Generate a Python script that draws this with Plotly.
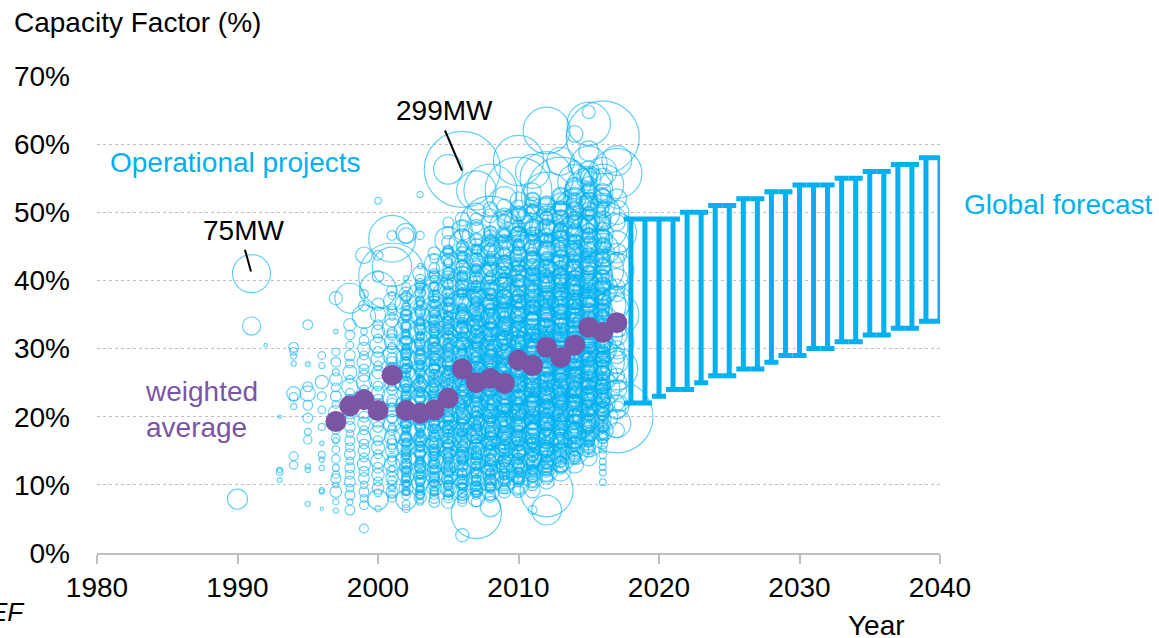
import plotly.graph_objects as go

# ---------------- Data ----------------
# Operational projects: (capacity factor %, capacity MW) per commissioning year
p1990 = [(7.9, 21)]
p1991 = [(41.0, 75), (33.3, 17)]
p1992 = [(30.5, 0.6)]
p1993 = [(20.0, 0.6), (12.2, 1.5), (11.9, 2.3), (10.7, 1.2)]
p1994 = [(30.2, 5), (29.6, 3), (28.9, 2), (27.8, 1.5), (23.4, 10), (22.9, 4), (21.5, 2), (14.2, 4), (12.9, 3.5)]
p1995 = [(33.5, 5), (27.7, 1.2), (24.4, 5), (23.4, 12), (21.7, 5), (19.8, 5), (17.8, 2.3), (16.6, 3.5),
         (12.7, 1.5), (12.2, 1.5), (7.2, 1.5)]
p1996 = [(29.0, 3), (27.5, 2), (25.1, 9), (23.0, 4), (21.0, 3), (18.5, 2.5), (16.1, 1), (14.4, 2.5),
         (13.7, 1.5), (12.5, 1.5), (9.2, 1.5), (9.0, 1.2), (6.5, 0.5)]
p1997 = [(37.4, 9), (32.5, 1), (29.5, 3), (28.0, 5), (26.5, 2.5), (25.5, 8), (24.3, 4), (23.0, 6), (21.8, 3),
         (20.5, 12), (19.2, 5), (18.0, 3), (16.8, 4), (16.5, 2), (15.2, 3), (13.8, 4), (12.5, 2.5), (11.5, 3),
         (10.9, 5), (10.0, 2), (9.0, 7), (7.5, 2), (6.2, 1.5)]
p1998 = [(37.4, 46), (33.5, 8), (32.0, 5), (30.5, 3), (29.0, 6), (27.8, 4), (26.5, 10), (25.5, 3), (24.4, 14),
         (23.5, 4), (22.5, 6), (21.5, 3), (20.6, 8), (19.5, 4), (18.5, 6), (17.5, 3), (16.5, 5), (15.5, 4),
         (14.5, 6), (13.5, 3), (12.5, 5), (11.5, 4), (10.5, 6), (9.5, 3), (8.5, 5), (7.5, 2), (6.3, 5)]
p1999 = [(43.7, 14), (38.0, 4), (36.3, 6), (34.7, 28), (32.5, 2.3), (31.2, 5), (30.0, 8), (29.0, 4), (28.0, 10),
         (27.0, 5), (26.0, 7), (25.0, 12), (24.0, 4), (23.0, 9), (22.0, 5), (21.0, 15), (20.0, 6), (19.0, 8),
         (18.0, 4), (17.0, 10), (16.0, 5), (15.0, 7), (14.0, 4), (13.0, 9), (12.0, 5), (11.0, 6), (10.0, 3),
         (9.0, 5), (8.0, 3), (7.0, 4), (3.6, 4)]
p2000 = [(51.7, 2.3), (43.7, 5), (40.6, 7), (38.6, 70), (36.5, 8), (35.0, 12), (33.5, 5), (32.5, 9), (31.5, 4),
         (30.5, 14), (29.5, 6), (28.5, 10), (27.5, 4), (26.5, 8), (25.5, 18), (24.5, 5), (23.5, 9), (22.5, 6),
         (21.5, 12), (20.5, 4), (19.5, 10), (18.5, 6), (17.5, 14), (16.5, 5), (15.5, 9), (14.5, 4), (13.5, 11),
         (12.5, 6), (11.5, 8), (10.5, 4), (9.5, 7), (8.8, 3), (7.8, 21), (6.5, 2)]
p2001 = [(46.6, 5), (46.1, 113), (42.0, 80), (40.6, 230), (38.5, 6), (37.0, 15), (35.5, 5), (34.2, 10),
         (33.0, 20), (32.0, 6), (31.0, 12), (30.0, 5), (29.0, 18), (28.0, 7), (27.0, 10), (26.0, 4), (25.0, 14),
         (24.0, 6), (23.0, 20), (22.0, 5), (21.0, 10), (20.0, 7), (19.0, 16), (18.0, 5), (17.0, 12), (16.0, 6),
         (15.0, 9), (14.0, 4), (13.0, 12), (12.0, 6), (11.0, 8), (10.0, 4), (9.0, 7), (8.0, 3),
         (37.8, 3), (35.9, 4), (34.6, 2), (32.4, 5), (30.4, 3), (28.6, 6), (27.4, 2.5), (25.7, 4), (24.4, 3),
         (22.4, 6), (21.4, 3), (19.7, 5), (18.5, 2.5), (16.6, 4), (15.4, 3), (13.6, 5), (12.4, 2), (10.6, 4),
         (9.5, 2.5), (8.6, 3)]
p2002 = [(46.9, 21), (46.6, 12), (40.3, 1.5), (38.0, 10), (36.5, 25), (35.0, 6), (33.8, 14), (32.5, 30),
         (31.5, 8), (30.5, 18), (29.5, 5), (28.5, 22), (27.5, 9), (26.5, 14), (25.5, 35), (24.5, 7), (23.5, 16),
         (22.5, 5), (21.5, 25), (20.5, 10), (19.5, 14), (18.5, 6), (17.5, 30), (16.5, 9), (15.5, 18), (14.5, 5),
         (13.5, 22), (12.5, 8), (11.5, 14), (10.5, 6), (9.5, 10), (8.5, 4), (7.8, 21), (6.5, 3),
         (39.0, 4), (37.2, 3), (35.6, 5), (34.3, 2.5), (33.1, 6), (31.9, 3), (30.9, 8), (29.9, 4), (28.9, 3),
         (27.9, 7), (26.9, 4), (25.9, 3), (24.9, 9), (23.9, 3), (22.9, 5), (21.9, 4), (20.9, 7), (19.9, 3),
         (18.9, 5), (17.9, 3), (16.9, 6), (15.9, 4), (14.9, 3), (13.9, 6), (12.9, 3), (11.9, 5), (10.9, 3),
         (9.9, 4), (8.9, 2.5), (7.2, 3)]
p2003 = [(52.6, 2), (46.6, 3.5), (42.1, 1.5), (41.0, 12), (39.5, 6), (37.6, 37), (36.0, 9), (34.8, 20),
         (33.6, 6), (32.5, 28), (31.4, 10), (30.3, 16), (29.2, 5), (28.2, 24), (27.2, 9), (26.2, 40), (25.2, 7),
         (24.2, 18), (23.2, 12), (22.2, 30), (21.2, 6), (20.2, 20), (19.2, 9), (18.2, 35), (17.2, 7), (16.2, 16),
         (15.2, 11), (14.2, 25), (13.2, 6), (12.2, 18), (11.2, 9), (10.2, 14), (9.2, 5), (8.2, 8), (7.5, 2.3),
         (40.2, 5), (38.7, 3), (37.0, 4), (35.5, 6), (34.2, 3), (33.0, 8), (31.9, 4), (30.8, 6), (29.8, 3),
         (28.7, 9), (27.7, 4), (26.7, 6), (25.7, 3), (24.7, 10), (23.7, 4), (22.7, 6), (21.7, 3), (20.7, 8),
         (19.7, 4), (18.7, 6), (17.7, 3), (16.7, 9), (15.7, 4), (14.7, 6), (13.7, 3), (12.7, 7), (11.7, 4),
         (10.7, 5), (9.7, 3), (8.7, 4)]
p2004 = [(44.0, 8), (42.5, 20), (41.0, 5), (39.5, 14), (38.0, 30), (36.8, 8), (35.7, 37), (34.5, 12), (33.5, 22),
         (32.5, 6), (31.5, 40), (30.5, 10), (29.5, 18), (28.5, 7), (27.5, 28), (26.5, 12), (25.5, 50), (24.5, 9),
         (23.5, 20), (22.5, 6), (21.5, 32), (20.5, 14), (19.5, 24), (18.5, 8), (17.5, 45), (16.5, 11), (15.5, 20),
         (14.5, 7), (13.5, 28), (12.5, 10), (11.5, 16), (10.5, 6), (9.5, 12), (8.5, 4), (7.5, 6),
         (43.2, 4), (41.8, 6), (40.2, 3), (38.8, 8), (37.4, 4), (36.2, 10), (35.1, 3), (34.0, 7), (33.0, 4),
         (32.0, 12), (31.0, 5), (30.0, 8), (29.0, 4), (28.0, 14), (27.0, 5), (26.0, 9), (25.0, 4), (24.0, 15),
         (23.0, 6), (22.0, 10), (21.0, 4), (20.0, 16), (19.0, 6), (18.0, 9), (17.0, 4), (16.0, 14), (15.0, 5),
         (14.0, 8), (13.0, 4), (12.0, 10), (11.0, 4), (10.0, 7), (9.0, 3), (8.0, 5)]
p2005 = [(56.3, 45), (48.5, 6), (45.9, 37), (45.6, 9), (43.5, 14), (42.0, 28), (40.5, 8), (39.0, 22), (37.8, 50),
         (36.5, 10), (35.5, 18), (34.5, 6), (33.5, 35), (32.5, 12), (31.5, 24), (30.5, 8), (29.5, 60), (28.5, 14),
         (27.5, 20), (26.5, 7), (25.5, 40), (24.5, 12), (23.5, 26), (22.5, 9), (21.5, 55), (20.5, 15), (19.5, 22),
         (18.5, 8), (17.5, 38), (16.5, 12), (15.5, 25), (14.5, 9), (13.5, 30), (12.5, 11), (11.5, 18), (10.5, 7),
         (9.5, 14), (8.5, 5), (7.5, 9),
         (47.0, 8), (44.5, 5), (43.0, 10), (41.3, 4), (39.8, 12), (38.5, 5), (37.2, 8), (36.0, 4), (35.0, 14),
         (34.0, 5), (33.0, 9), (32.0, 4), (31.0, 16), (30.0, 6), (29.0, 10), (28.0, 5), (27.0, 18), (26.0, 6),
         (25.0, 10), (24.0, 5), (23.0, 16), (22.0, 6), (21.0, 11), (20.0, 5), (19.0, 18), (18.0, 6), (17.0, 10),
         (16.0, 5), (15.0, 14), (14.0, 6), (13.0, 9), (12.0, 4), (11.0, 10), (10.0, 4), (9.0, 6), (8.0, 4)]
p2006 = [(56.3, 299), (49.0, 10), (47.4, 21), (45.5, 35), (44.0, 8), (42.5, 25), (41.0, 12), (39.8, 45),
         (38.5, 9), (37.3, 20), (36.2, 60), (35.0, 11), (34.0, 28), (33.0, 8), (32.0, 40), (31.0, 14), (30.0, 22),
         (29.0, 70), (28.0, 10), (27.0, 30), (26.0, 16), (25.0, 50), (24.0, 9), (23.0, 26), (22.0, 12), (21.0, 80),
         (20.0, 14), (19.0, 30), (18.0, 9), (17.0, 45), (16.0, 12), (15.0, 28), (14.0, 8), (13.0, 35), (12.0, 10),
         (11.0, 20), (10.0, 6), (9.0, 16), (8.0, 5), (2.6, 9),
         (48.0, 6), (46.5, 12), (43.2, 5), (41.8, 14), (40.4, 6), (39.0, 10), (37.9, 5), (36.8, 16), (35.6, 6),
         (34.5, 10), (33.5, 5), (32.5, 18), (31.5, 6), (30.5, 11), (29.5, 5), (28.5, 20), (27.5, 7), (26.5, 12),
         (25.5, 6), (24.5, 20), (23.5, 7), (22.5, 12), (21.5, 6), (20.5, 22), (19.5, 7), (18.5, 12), (17.5, 6),
         (16.5, 18), (15.5, 7), (14.5, 10), (13.5, 5), (12.5, 14), (11.5, 6), (10.5, 9), (9.5, 4), (8.5, 6),
         (7.5, 4)]
p2007 = [(53.2, 80), (50.0, 18), (48.0, 9), (46.5, 40), (45.0, 12), (43.5, 28), (42.0, 8), (40.8, 55), (39.5, 14),
         (38.3, 24), (37.2, 9), (36.0, 70), (35.0, 12), (34.0, 32), (33.0, 16), (32.0, 50), (31.0, 9), (30.0, 28),
         (29.0, 14), (28.0, 90), (27.0, 11), (26.0, 36), (25.0, 18), (24.0, 60), (23.0, 10), (22.0, 30), (21.0, 15),
         (20.0, 75), (19.0, 12), (18.0, 34), (17.0, 9), (16.0, 50), (15.0, 14), (14.0, 26), (13.0, 8), (12.0, 40),
         (11.0, 12), (10.0, 20), (9.0, 7), (8.0, 14), (5.8, 130),
         (49.0, 8), (47.2, 14), (44.2, 6), (42.8, 16), (41.4, 7), (40.1, 11), (38.9, 6), (37.8, 18), (36.6, 7),
         (35.5, 12), (34.5, 6), (33.5, 20), (32.5, 7), (31.5, 12), (30.5, 6), (29.5, 22), (28.5, 8), (27.5, 13),
         (26.5, 6), (25.5, 24), (24.5, 8), (23.5, 13), (22.5, 7), (21.5, 24), (20.5, 8), (19.5, 13), (18.5, 6),
         (17.5, 20), (16.5, 7), (15.5, 12), (14.5, 6), (13.5, 16), (12.5, 7), (11.5, 10), (10.5, 5), (9.5, 8),
         (8.5, 4), (7.5, 5)]
p2008 = [(53.2, 145), (50.5, 10), (47.8, 200), (45.5, 16), (44.0, 35), (42.5, 10), (41.0, 28), (39.8, 60),
         (38.5, 12), (37.3, 24), (36.2, 9), (35.0, 45), (34.0, 14), (33.0, 30), (32.0, 10), (31.0, 65), (30.0, 16),
         (29.0, 28), (28.0, 9), (27.0, 50), (26.0, 18), (25.0, 35), (24.0, 12), (23.0, 80), (22.0, 14), (21.0, 30),
         (20.0, 10), (19.0, 55), (18.0, 16), (17.0, 28), (16.0, 9), (15.0, 45), (14.0, 14), (13.0, 24), (12.0, 10),
         (11.0, 35), (10.0, 8), (9.0, 16), (8.2, 6), (6.8, 21),
         (49.5, 10), (46.5, 8), (45.0, 18), (43.2, 7), (41.8, 14), (40.5, 7), (39.2, 20), (38.0, 8), (36.8, 13),
         (35.6, 7), (34.5, 22), (33.5, 8), (32.5, 14), (31.5, 7), (30.5, 24), (29.5, 9), (28.5, 14), (27.5, 7),
         (26.5, 26), (25.5, 9), (24.5, 15), (23.5, 7), (22.5, 24), (21.5, 9), (20.5, 14), (19.5, 7), (18.5, 22),
         (17.5, 8), (16.5, 13), (15.5, 6), (14.5, 18), (13.5, 7), (12.5, 11), (11.5, 6), (10.5, 9), (9.5, 5),
         (8.5, 6)]
p2009 = [(52.0, 30), (49.5, 12), (48.0, 45), (46.5, 9), (45.0, 22), (43.5, 60), (42.0, 14), (40.8, 30), (39.5, 10),
         (38.3, 50), (37.2, 16), (36.0, 28), (35.0, 9), (34.0, 70), (33.0, 14), (32.0, 35), (31.0, 12), (30.0, 55),
         (29.0, 18), (28.0, 30), (27.0, 10), (26.0, 90), (25.0, 14), (24.0, 40), (23.0, 16), (22.0, 60), (21.0, 10),
         (20.0, 32), (19.0, 18), (18.0, 75), (17.0, 12), (16.0, 30), (15.0, 9), (14.0, 50), (13.0, 14), (12.0, 28),
         (11.2, 40), (10.7, 9), (10.0, 18), (9.0, 8),
         (50.8, 12), (47.2, 9), (44.3, 20), (42.8, 8), (41.5, 15), (40.2, 8), (39.0, 22), (37.8, 9), (36.6, 14),
         (35.5, 8), (34.5, 24), (33.5, 9), (32.5, 15), (31.5, 8), (30.5, 26), (29.5, 10), (28.5, 15), (27.5, 8),
         (26.5, 28), (25.5, 10), (24.5, 16), (23.5, 8), (22.5, 26), (21.5, 10), (20.5, 15), (19.5, 8), (18.5, 24),
         (17.5, 9), (16.5, 14), (15.5, 7), (14.5, 20), (13.5, 8), (12.5, 12), (11.5, 6), (10.3, 8), (9.5, 5)]
p2010 = [(57.6, 130), (53.2, 230), (50.5, 16), (48.5, 40), (47.0, 10), (45.5, 28), (44.0, 70), (42.5, 14),
         (41.0, 35), (39.8, 9), (38.5, 55), (37.3, 16), (36.2, 30), (35.0, 12), (34.0, 80), (33.0, 14), (32.0, 40),
         (31.0, 10), (30.0, 60), (29.0, 18), (28.0, 32), (27.0, 12), (26.0, 100), (25.0, 16), (24.0, 45), (23.0, 10),
         (22.0, 65), (21.0, 20), (20.0, 35), (19.0, 12), (18.0, 85), (17.0, 14), (16.0, 40), (15.0, 10), (14.0, 55),
         (13.0, 16), (12.0, 30), (11.0, 9), (10.0, 22), (9.0, 7),
         (51.8, 14), (49.5, 9), (46.3, 22), (44.8, 9), (43.3, 16), (42.0, 9), (40.6, 24), (39.3, 10), (38.0, 15),
         (36.8, 9), (35.6, 26), (34.5, 10), (33.5, 16), (32.5, 9), (31.5, 28), (30.5, 10), (29.5, 16), (28.5, 9),
         (27.5, 30), (26.5, 11), (25.5, 17), (24.5, 9), (23.5, 28), (22.5, 11), (21.5, 16), (20.5, 9), (19.5, 26),
         (18.5, 10), (17.5, 15), (16.5, 8), (15.5, 22), (14.5, 9), (13.5, 13), (12.5, 7), (11.5, 10), (10.5, 6),
         (9.5, 6)]
p2011 = [(56.0, 60), (51.0, 14), (49.0, 50), (47.5, 12), (46.0, 30), (44.5, 80), (43.0, 14), (41.8, 35), (40.5, 10),
         (39.3, 60), (38.2, 16), (37.0, 28), (36.0, 12), (35.0, 90), (34.0, 14), (33.0, 40), (32.0, 10), (31.0, 65),
         (30.0, 20), (29.0, 35), (28.0, 12), (27.0, 110), (26.0, 16), (25.0, 45), (24.0, 12), (23.0, 70), (22.0, 18),
         (21.0, 38), (20.0, 10), (19.0, 80), (18.0, 14), (17.0, 35), (16.0, 9), (15.0, 50), (14.0, 16), (13.0, 28),
         (12.0, 10), (11.0, 20), (10.0, 7), (9.2, 12), (6.3, 4),
         (53.0, 16), (50.0, 10), (48.2, 24), (46.8, 10), (45.3, 18), (43.8, 10), (42.4, 26), (41.1, 11), (39.9, 16),
         (38.7, 10), (37.5, 28), (36.5, 11), (35.5, 17), (34.5, 10), (33.5, 30), (32.5, 11), (31.5, 17), (30.5, 10),
         (29.5, 32), (28.5, 12), (27.5, 18), (26.5, 10), (25.5, 30), (24.5, 12), (23.5, 17), (22.5, 10), (21.5, 28),
         (20.5, 11), (19.5, 16), (18.5, 9), (17.5, 24), (16.5, 10), (15.5, 14), (14.5, 8), (13.5, 18), (12.5, 8),
         (11.5, 11), (10.5, 6)]
p2012 = [(62.0, 113), (55.0, 145), (52.2, 130), (49.5, 20), (48.0, 60), (46.5, 12), (45.0, 35), (43.5, 90),
         (42.0, 14), (40.8, 40), (39.5, 12), (38.3, 70), (37.2, 18), (36.0, 32), (35.0, 12), (34.0, 100), (33.0, 16),
         (32.0, 45), (31.0, 12), (30.0, 75), (29.0, 20), (28.0, 38), (27.0, 14), (26.0, 120), (25.0, 18), (24.0, 50),
         (23.0, 12), (22.0, 80), (21.0, 16), (20.0, 40), (19.0, 10), (18.0, 65), (17.0, 14), (16.0, 30), (15.0, 9),
         (14.0, 45), (13.0, 12), (12.0, 24), (11.0, 8), (9.2, 145), (6.3, 46),
         (50.8, 16), (47.2, 26), (45.8, 11), (44.3, 20), (42.8, 11), (41.4, 28), (40.1, 12), (38.9, 18), (37.8, 11),
         (36.6, 30), (35.5, 12), (34.5, 18), (33.5, 11), (32.5, 32), (31.5, 12), (30.5, 19), (29.5, 11), (28.5, 34),
         (27.5, 13), (26.5, 19), (25.5, 11), (24.5, 32), (23.5, 13), (22.5, 18), (21.5, 11), (20.5, 30), (19.5, 12),
         (18.5, 17), (17.5, 10), (16.5, 26), (15.5, 11), (14.5, 15), (13.5, 9), (12.5, 18), (11.5, 9), (10.5, 12)]
p2013 = [(57.5, 40), (53.2, 230), (50.0, 22), (48.5, 70), (47.0, 14), (45.5, 40), (44.0, 100), (42.5, 16),
         (41.2, 45), (40.0, 12), (38.8, 75), (37.6, 18), (36.5, 35), (35.4, 12), (34.3, 110), (33.2, 16), (32.1, 50),
         (31.0, 12), (30.0, 80), (29.0, 20), (28.0, 40), (27.0, 14), (26.0, 95), (25.0, 18), (24.0, 50), (23.0, 12),
         (22.0, 70), (21.0, 16), (20.0, 35), (19.0, 10), (18.0, 60), (17.0, 14), (16.0, 28), (15.0, 9), (14.0, 40),
         (13.0, 12), (12.0, 20),
         (51.5, 18), (49.2, 12), (47.8, 28), (46.2, 12), (44.8, 20), (43.3, 12), (42.0, 30), (40.6, 13), (39.4, 19),
         (38.2, 12), (37.0, 32), (36.0, 13), (35.0, 19), (34.0, 12), (33.0, 34), (32.0, 13), (31.0, 20), (30.0, 12),
         (29.0, 36), (28.0, 14), (27.0, 20), (26.0, 12), (25.0, 34), (24.0, 14), (23.0, 19), (22.0, 12), (21.0, 30),
         (20.0, 13), (19.0, 18), (18.0, 10), (17.0, 26), (16.0, 11), (15.0, 15), (14.0, 9), (13.0, 14), (12.5, 8)]
p2014 = [(61.5, 14), (56.6, 9), (54.5, 60), (52.0, 25), (50.5, 80), (49.0, 14), (47.5, 45), (46.0, 110), (44.5, 18),
         (43.0, 50), (41.8, 14), (40.6, 85), (39.4, 20), (38.2, 40), (37.0, 14), (35.8, 120), (34.6, 18), (33.4, 55),
         (32.2, 14), (31.0, 90), (30.0, 22), (29.0, 45), (28.0, 16), (27.0, 100), (26.0, 20), (25.0, 50), (24.0, 14),
         (23.0, 75), (22.0, 16), (21.0, 38), (20.0, 12), (19.0, 60), (18.0, 14), (17.0, 28), (16.0, 10), (15.0, 40),
         (14.0, 8), (13.0, 16),
         (53.2, 20), (51.2, 14), (48.2, 30), (46.8, 14), (45.2, 22), (43.8, 13), (42.4, 32), (41.2, 14), (40.0, 20),
         (38.8, 13), (37.6, 34), (36.4, 14), (35.2, 21), (34.0, 13), (33.0, 36), (32.0, 14), (31.0, 21), (30.0, 13),
         (29.0, 38), (28.0, 15), (27.0, 21), (26.0, 13), (25.0, 36), (24.0, 14), (23.0, 20), (22.0, 12), (21.0, 30),
         (20.0, 12), (19.0, 18), (18.0, 10), (17.0, 24), (16.0, 10), (15.0, 14), (14.0, 8)]
p2015 = [(64.7, 9), (63.0, 97), (59.0, 21), (57.0, 70), (55.0, 30), (53.0, 120), (51.0, 20), (49.5, 60), (48.0, 16),
         (46.5, 90), (45.0, 22), (43.5, 45), (42.0, 14), (40.8, 110), (39.5, 20), (38.3, 50), (37.2, 14), (36.0, 85),
         (35.0, 22), (34.0, 45), (33.0, 16), (32.0, 100), (31.0, 20), (30.0, 55), (29.0, 14), (28.0, 80), (27.0, 18),
         (26.0, 40), (25.0, 12), (24.0, 70), (23.0, 16), (22.0, 35), (21.0, 10), (20.0, 55), (19.0, 12), (18.0, 25),
         (17.0, 9), (16.0, 35), (15.0, 8), (14.0, 14),
         (56.0, 22), (54.0, 15), (52.0, 32), (50.2, 15), (48.8, 24), (47.2, 14), (45.8, 34), (44.2, 15), (42.8, 22),
         (41.5, 14), (40.2, 36), (39.0, 15), (37.8, 22), (36.6, 14), (35.5, 38), (34.5, 15), (33.5, 22), (32.5, 14),
         (31.5, 36), (30.5, 15), (29.5, 21), (28.5, 13), (27.5, 34), (26.5, 14), (25.5, 20), (24.5, 12), (23.5, 30),
         (22.5, 12), (21.5, 18), (20.5, 10), (19.5, 24), (18.5, 9), (17.5, 14), (16.5, 8), (15.5, 10)]
p2016 = [(61.0, 275), (56.0, 40), (54.0, 90), (52.0, 18), (50.0, 60), (48.0, 130), (46.0, 20), (44.5, 55), (43.0, 14),
         (41.5, 90), (40.0, 22), (38.8, 45), (37.6, 14), (36.4, 110), (35.2, 18), (34.0, 50), (33.0, 14), (32.0, 80),
         (31.0, 20), (30.0, 40), (29.0, 12), (28.0, 95), (27.0, 16), (26.0, 45), (25.0, 12), (24.0, 60), (23.0, 14),
         (22.0, 30), (21.0, 10), (20.0, 45), (19.0, 12), (18.0, 22), (17.0, 8), (16.0, 5), (13.4, 2.3), (11.8, 2.3),
         (10.4, 2.3),
         (55.0, 20), (53.0, 14), (51.0, 30), (49.0, 14), (47.0, 22), (45.2, 13), (43.8, 30), (42.2, 14), (40.8, 20),
         (39.4, 13), (38.2, 32), (37.0, 13), (35.8, 20), (34.6, 12), (33.5, 30), (32.5, 13), (31.5, 19), (30.5, 12),
         (29.5, 28), (28.5, 12), (27.5, 18), (26.5, 11), (25.5, 26), (24.5, 11), (23.5, 16), (22.5, 10), (21.5, 20),
         (20.5, 9), (19.5, 14), (18.5, 7), (17.5, 8), (16.8, 5), (15.2, 3), (14.4, 3), (12.6, 2.3)]
p2017 = [(57.6, 46), (55.7, 130), (50.0, 30), (47.0, 80), (44.0, 20), (41.5, 60), (39.0, 14), (37.0, 45), (35.0, 100),
         (33.0, 18), (31.0, 60), (29.0, 14), (27.0, 90), (25.0, 20), (23.0, 50), (21.0, 16), (20.0, 270), (19.0, 40),
         (18.0, 12),
         (52.0, 20), (48.5, 14), (45.5, 30), (43.0, 12), (40.2, 24), (38.0, 12), (36.0, 28), (34.0, 12), (32.0, 22),
         (30.0, 12), (28.0, 26), (26.0, 12), (24.0, 20), (22.0, 12), (21.5, 30)]

# Smaller projects in the dense core (same years)
s2002 = [(37.7, 5), (36.2, 3), (34.9, 6), (33.4, 4), (32.2, 3), (31.1, 5), (30.2, 2.5), (29.1, 6), (28.2, 3),
         (27.1, 5), (26.2, 3), (25.1, 7), (24.2, 3), (23.1, 5), (22.2, 3), (21.1, 6), (20.2, 3), (19.1, 5),
         (18.2, 3), (17.1, 6), (16.2, 3), (15.1, 5), (14.2, 3), (13.1, 5), (12.2, 3), (11.1, 4), (10.2, 2.5), (9.1, 3)]
s2003 = [(39.2, 4), (38.2, 6), (36.6, 3), (35.2, 5), (33.9, 3), (32.8, 6), (31.7, 3), (30.6, 5), (29.5, 3),
         (28.4, 6), (27.4, 3), (26.4, 5), (25.4, 3), (24.4, 7), (23.4, 3), (22.4, 5), (21.4, 3), (20.4, 6),
         (19.4, 3), (18.4, 5), (17.4, 3), (16.4, 6), (15.4, 3), (14.4, 5), (13.4, 3), (12.4, 5), (11.4, 3),
         (10.4, 4), (9.4, 2.5), (8.4, 3)]
s2004 = [(40.6, 6), (39.1, 4), (37.7, 7), (36.5, 4), (35.3, 6), (34.2, 4), (33.2, 7), (32.2, 4), (31.2, 6),
         (30.2, 4), (29.2, 8), (28.2, 4), (27.2, 6), (26.2, 4), (25.2, 8), (24.2, 4), (23.2, 6), (22.2, 4),
         (21.2, 8), (20.2, 4), (19.2, 6), (18.2, 4), (17.2, 7), (16.2, 4), (15.2, 6), (14.2, 4), (13.2, 6),
         (12.2, 3), (11.2, 5), (10.2, 3), (9.2, 4)]
s2005 = [(44.2, 6), (42.6, 4), (41.0, 7), (39.4, 5), (38.1, 8), (36.9, 4), (35.8, 7), (34.8, 4), (33.8, 8),
         (32.8, 5), (31.8, 7), (30.8, 4), (29.8, 8), (28.8, 5), (27.8, 7), (26.8, 4), (25.8, 9), (24.8, 5),
         (23.8, 7), (22.8, 4), (21.8, 8), (20.8, 5), (19.8, 7), (18.8, 4), (17.8, 8), (16.8, 5), (15.8, 7),
         (14.8, 4), (13.8, 6), (12.8, 4), (11.8, 5), (10.8, 3), (9.8, 4), (8.8, 3)]
s2006 = [(45.0, 7), (43.6, 5), (42.0, 8), (40.7, 5), (39.4, 8), (38.2, 5), (37.0, 9), (35.9, 5), (34.8, 8),
         (33.8, 5), (32.8, 9), (31.8, 5), (30.8, 8), (29.8, 5), (28.8, 9), (27.8, 6), (26.8, 8), (25.8, 5),
         (24.8, 9), (23.8, 6), (22.8, 8), (21.8, 5), (20.8, 9), (19.8, 6), (18.8, 8), (17.8, 5), (16.8, 8),
         (15.8, 5), (14.8, 7), (13.8, 4), (12.8, 6), (11.8, 4), (10.8, 5), (9.8, 3), (8.8, 4)]
s2007 = [(46.0, 8), (44.6, 5), (43.0, 9), (41.7, 5), (40.4, 9), (39.2, 6), (38.0, 9), (36.9, 6), (35.8, 10),
         (34.8, 6), (33.8, 9), (32.8, 6), (31.8, 10), (30.8, 6), (29.8, 9), (28.8, 6), (27.8, 10), (26.8, 6),
         (25.8, 9), (24.8, 6), (23.8, 10), (22.8, 6), (21.8, 9), (20.8, 6), (19.8, 9), (18.8, 5), (17.8, 8),
         (16.8, 5), (15.8, 8), (14.8, 5), (13.8, 7), (12.8, 4), (11.8, 6), (10.8, 4), (9.8, 5), (8.8, 3)]
s2008 = [(47.0, 9), (45.8, 6), (44.4, 10), (43.0, 6), (41.6, 10), (40.3, 6), (39.0, 10), (37.9, 6), (36.8, 11),
         (35.8, 7), (34.8, 10), (33.8, 6), (32.8, 11), (31.8, 7), (30.8, 10), (29.8, 6), (28.8, 11), (27.8, 7),
         (26.8, 10), (25.8, 6), (24.8, 11), (23.8, 7), (22.8, 10), (21.8, 6), (20.8, 10), (19.8, 6), (18.8, 9),
         (17.8, 6), (16.8, 9), (15.8, 5), (14.8, 8), (13.8, 5), (12.8, 7), (11.8, 4), (10.8, 6), (9.8, 4)]
s2009 = [(48.6, 10), (47.0, 6), (45.6, 11), (44.0, 7), (42.6, 11), (41.2, 7), (40.0, 11), (38.8, 7), (37.6, 12),
         (36.6, 7), (35.6, 11), (34.6, 7), (33.6, 12), (32.6, 7), (31.6, 11), (30.6, 7), (29.6, 12), (28.6, 7),
         (27.6, 11), (26.6, 7), (25.6, 12), (24.6, 7), (23.6, 11), (22.6, 7), (21.6, 11), (20.6, 7), (19.6, 10),
         (18.6, 6), (17.6, 10), (16.6, 6), (15.6, 9), (14.6, 5), (13.6, 8), (12.6, 5), (11.6, 6), (10.6, 4)]
s2010 = [(49.8, 11), (48.0, 7), (46.8, 12), (45.2, 7), (43.8, 12), (42.4, 8), (41.2, 12), (40.0, 8), (38.8, 13),
         (37.8, 8), (36.8, 12), (35.8, 8), (34.8, 13), (33.8, 8), (32.8, 12), (31.8, 8), (30.8, 13), (29.8, 8),
         (28.8, 12), (27.8, 8), (26.8, 13), (25.8, 8), (24.8, 12), (23.8, 8), (22.8, 12), (21.8, 8), (20.8, 11),
         (19.8, 7), (18.8, 11), (17.8, 7), (16.8, 10), (15.8, 6), (14.8, 9), (13.8, 6), (12.8, 7), (11.8, 5),
         (10.8, 5)]
s2011 = [(51.8, 12), (50.2, 8), (47.8, 13), (46.2, 8), (44.8, 13), (43.4, 8), (42.0, 13), (40.8, 9), (39.6, 14),
         (38.4, 9), (37.2, 13), (36.2, 9), (35.2, 14), (34.2, 9), (33.2, 13), (32.2, 9), (31.2, 14), (30.2, 9),
         (29.2, 13), (28.2, 9), (27.2, 14), (26.2, 9), (25.2, 13), (24.2, 9), (23.2, 13), (22.2, 8), (21.2, 12),
         (20.2, 8), (19.2, 12), (18.2, 8), (17.2, 11), (16.2, 7), (15.2, 10), (14.2, 6), (13.2, 8), (12.2, 5),
         (11.2, 6)]
s2012 = [(51.2, 13), (49.2, 9), (47.8, 14), (46.0, 9), (44.6, 14), (43.2, 9), (41.8, 14), (40.6, 10), (39.4, 15),
         (38.2, 10), (37.2, 14), (36.2, 10), (35.2, 15), (34.2, 10), (33.2, 14), (32.2, 10), (31.2, 15), (30.2, 10),
         (29.2, 14), (28.2, 10), (27.2, 15), (26.2, 10), (25.2, 14), (24.2, 10), (23.2, 14), (22.2, 9), (21.2, 13),
         (20.2, 9), (19.2, 13), (18.2, 8), (17.2, 12), (16.2, 8), (15.2, 10), (14.2, 7), (13.2, 8), (12.2, 6)]
s2013 = [(52.4, 14), (50.6, 10), (49.0, 15), (47.4, 10), (46.0, 15), (44.6, 10), (43.2, 15), (41.8, 11), (40.6, 16),
         (39.4, 11), (38.4, 15), (37.4, 11), (36.4, 16), (35.4, 11), (34.4, 15), (33.4, 11), (32.4, 16), (31.4, 11),
         (30.4, 15), (29.4, 11), (28.4, 15), (27.4, 10), (26.4, 14), (25.4, 10), (24.4, 14), (23.4, 10), (22.4, 13),
         (21.4, 9), (20.4, 12), (19.4, 9), (18.4, 11), (17.4, 8), (16.4, 10), (15.4, 7), (14.4, 8), (13.4, 6)]
s2014 = [(53.8, 15), (51.8, 10), (50.2, 16), (48.6, 10), (47.0, 16), (45.6, 11), (44.2, 16), (42.8, 11), (41.6, 17),
         (40.4, 11), (39.2, 16), (38.2, 11), (37.2, 17), (36.2, 11), (35.2, 16), (34.2, 11), (33.2, 17), (32.2, 11),
         (31.2, 16), (30.2, 11), (29.2, 15), (28.2, 10), (27.2, 15), (26.2, 10), (25.2, 14), (24.2, 10), (23.2, 13),
         (22.2, 9), (21.2, 12), (20.2, 9), (19.2, 11), (18.2, 8), (17.2, 10), (16.2, 7), (15.2, 8), (14.2, 6)]
s2015 = [(55.2, 15), (53.2, 10), (51.6, 16), (49.8, 10), (48.2, 16), (46.6, 11), (45.0, 16), (43.6, 11), (42.2, 17),
         (41.0, 11), (39.8, 16), (38.6, 11), (37.4, 17), (36.4, 11), (35.4, 16), (34.4, 11), (33.4, 17), (32.4, 11),
         (31.4, 16), (30.4, 11), (29.4, 15), (28.4, 10), (27.4, 15), (26.4, 10), (25.4, 14), (24.4, 10), (23.4, 13),
         (22.4, 9), (21.4, 12), (20.4, 8), (19.4, 10), (18.4, 7), (17.4, 8), (16.4, 6), (15.4, 5)]
s2016 = [(52.4, 12), (50.6, 8), (48.4, 13), (46.6, 8), (45.0, 13), (43.4, 8), (42.0, 13), (40.6, 9), (39.2, 13),
         (38.0, 9), (36.8, 13), (35.6, 9), (34.4, 13), (33.4, 9), (32.4, 12), (31.4, 8), (30.4, 12), (29.4, 8),
         (28.4, 12), (27.4, 8), (26.4, 11), (25.4, 8), (24.4, 11), (23.4, 7), (22.4, 10), (21.4, 7), (20.4, 8),
         (19.4, 6), (18.4, 5), (17.4, 4)]

project_years = list(range(1990, 2018))
project_lists = [p1990, p1991, p1992, p1993, p1994, p1995, p1996, p1997, p1998, p1999, p2000, p2001, p2002,
                 p2003, p2004, p2005, p2006, p2007, p2008, p2009, p2010, p2011, p2012, p2013, p2014, p2015,
                 p2016, p2017]
small_years = list(range(2002, 2017))
small_lists = [s2002, s2003, s2004, s2005, s2006, s2007, s2008, s2009, s2010, s2011, s2012, s2013, s2014,
               s2015, s2016]

# Weighted average capacity factor
avg_years = list(range(1997, 2018))
avg_cf = [19.3, 21.6, 22.5, 20.9, 26.1, 20.9, 20.5, 21.0, 22.7, 27.0, 25.0, 25.6, 24.9, 28.3, 27.5,
          30.2, 28.7, 30.5, 33.1, 32.4, 33.8]

# Global forecast range
fc_years = list(range(2018, 2041))
fc_high = [49, 49, 49, 49, 50, 50, 51, 51, 52, 52, 53, 53, 54, 54, 54, 55, 55, 56, 56, 57, 57, 58, 58]
fc_low = [22, 22, 23, 24, 24, 25, 26, 26, 27, 27, 28, 29, 29, 30, 30, 31, 31, 32, 32, 33, 33, 34, 34]


def flatten(years, lists):
    xs, ys, ss = [], [], []
    for yr, lst in zip(years, lists):
        for cf, mw in lst:
            xs.append(yr)
            ys.append(cf)
            ss.append(mw)
    return xs, ys, ss


BLUE = "#00B0F0"
PURPLE = "#7A55A5"
FONT = "Liberation Sans, Arial, sans-serif"
FS = 28
SIZEREF = 2 / 4.4 ** 2

fig = go.Figure()

px_, py_, ps_ = flatten(project_years, project_lists)
fig.add_trace(go.Scatter(
    x=px_, y=py_, mode="markers", hoverinfo="skip",
    marker=dict(size=ps_, sizemode="area", sizeref=SIZEREF,
                color="rgba(0,0,0,0)",
                line=dict(color="rgba(0,176,240,0.85)", width=1.2)),
))

sx_, sy_, ss_ = flatten(small_years, small_lists)
fig.add_trace(go.Scatter(
    x=sx_, y=sy_, mode="markers", hoverinfo="skip",
    marker=dict(size=ss_, sizemode="area", sizeref=SIZEREF,
                color="rgba(0,176,240,0.16)",
                line=dict(color="rgba(0,176,240,0.9)", width=2.0)),
))

fig.add_trace(go.Scatter(
    x=fc_years, y=fc_high, mode="markers", hoverinfo="skip",
    marker=dict(size=1, color="rgba(0,0,0,0)"),
    error_y=dict(type="data", symmetric=False,
                 array=[0] * len(fc_years),
                 arrayminus=[h - l for h, l in zip(fc_high, fc_low)],
                 color=BLUE, thickness=5, width=7),
))

fig.add_trace(go.Scatter(
    x=avg_years, y=avg_cf, mode="markers", hoverinfo="skip",
    marker=dict(size=21, color=PURPLE),
))

annotations = [
    dict(text="Capacity Factor (%)", xref="paper", yref="paper", x=-0.1008, y=1.113,
         xanchor="left", yanchor="middle", showarrow=False, font=dict(color="black")),
    dict(text="Operational projects", xref="x", yref="y", x=1980.78, y=57.3,
         xanchor="left", yanchor="middle", showarrow=False, font=dict(color=BLUE)),
    dict(text="75MW", xref="x", yref="y", x=1990.46, y=47.4,
         xanchor="center", yanchor="middle", showarrow=False, font=dict(color="black")),
    dict(text="299MW", xref="x", yref="y", x=2004.7, y=65.0,
         xanchor="center", yanchor="middle", showarrow=False, font=dict(color="black")),
    dict(text="weighted<br>average", xref="x", yref="y", x=1983.27, y=21.1, align="left",
         xanchor="left", yanchor="middle", showarrow=False, font=dict(color=PURPLE)),
    dict(text="Global forecast", xref="paper", yref="paper", x=1.026, y=0.7296,
         xanchor="left", yanchor="middle", showarrow=False, font=dict(color=BLUE)),
    dict(text="Year", xref="paper", yref="paper", x=0.9248, y=-0.153,
         xanchor="center", yanchor="middle", showarrow=False, font=dict(color="black")),
    dict(text="<i>Source: BNEF</i>", xref="paper", yref="paper", x=-0.0835, y=-0.124,
         xanchor="right", yanchor="middle", showarrow=False, font=dict(color="black", size=26)),
]

shapes = [
    dict(type="line", xref="x", yref="y", x0=1990.53, y0=44.5, x1=1990.96, y1=41.3,
         line=dict(color="black", width=2)),
    dict(type="line", xref="x", yref="y", x0=2004.77, y0=62.0, x1=2005.98, y1=56.1,
         line=dict(color="black", width=2)),
]

fig.update_layout(
    width=1159, height=638,
    margin=dict(l=97, r=219, t=76, b=85),
    paper_bgcolor="white", plot_bgcolor="white",
    showlegend=False,
    font=dict(family=FONT, size=FS, color="black"),
    annotations=annotations,
    shapes=shapes,
    xaxis=dict(range=[1980, 2040], dtick=10, tick0=1980, showgrid=False, zeroline=False,
               showline=True, linecolor="#BFBFBF", linewidth=1.5,
               ticks="outside", ticklen=9, tickcolor="#BFBFBF", tickwidth=1.5,
               ticklabelstandoff=0, tickfont=dict(size=FS, color="black")),
    yaxis=dict(range=[0, 70], dtick=10, tick0=0, ticksuffix="%", showgrid=True,
               gridcolor="#BFBFBF", griddash="dot", gridwidth=1, zeroline=False,
               showline=False, ticks="", ticklabelstandoff=26,
               tickfont=dict(size=FS, color="black")),
)

fig.write_html("out.html", config={"displayModeBar": False},
               post_script="document.body.style.margin='0';document.body.style.overflow='hidden';")
